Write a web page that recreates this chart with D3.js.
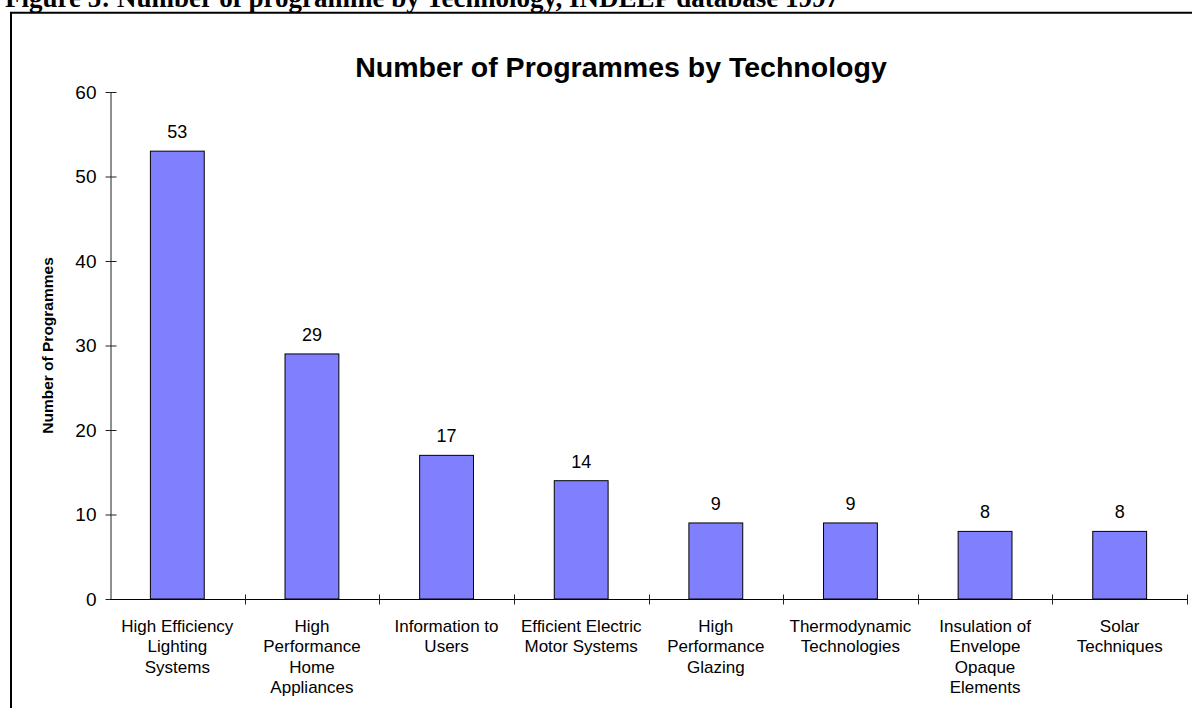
<!DOCTYPE html>
<html>
<head>
<meta charset="utf-8">
<script src="https://cdn.jsdelivr.net/npm/d3@7"></script>
<style>
  html, body { margin: 0; padding: 0; background: #fff; }
  svg { display: block; }
</style>
</head>
<body>
<svg id="chart" width="1192" height="708"></svg>
<script>
// Number of programmes per technology, INDEEP database 1997
const categories = [
  "High Efficiency Lighting Systems",
  "High Performance Home Appliances",
  "Information to Users",
  "Efficient Electric Motor Systems",
  "High Performance Glazing",
  "Thermodynamic Technologies",
  "Insulation of Envelope Opaque Elements",
  "Solar Techniques"
];
const categoryLines = [
  ["High Efficiency", "Lighting", "Systems"],
  ["High", "Performance", "Home", "Appliances"],
  ["Information to", "Users"],
  ["Efficient Electric", "Motor Systems"],
  ["High", "Performance", "Glazing"],
  ["Thermodynamic", "Technologies"],
  ["Insulation of", "Envelope", "Opaque", "Elements"],
  ["Solar", "Techniques"]
];
const programmes = [53, 29, 17, 14, 9, 9, 8, 8];
const yTicks = [0, 10, 20, 30, 40, 50, 60];

const captionText = "Figure 5: Number of programme by Technology, INDEEP database 1997";
const titleText = "Number of Programmes by Technology";
const yAxisTitle = "Number of Programmes";

const svg = d3.select("#chart");
const sans = "Arial, 'Liberation Sans', Helvetica, sans-serif";

// Document caption above the framed chart
svg.append("text")
  .attr("x", 5).attr("y", 6.5)
  .attr("font-family", "'Times New Roman', 'Liberation Serif', serif")
  .attr("font-weight", "bold")
  .attr("font-size", 27)
  .attr("fill", "#000")
  .text(captionText);

// Frame around the chart (left and top edges visible)
svg.append("path")
  .attr("d", "M11,720 L11,12.8 L1200,12.8")
  .attr("fill", "none")
  .attr("stroke", "#000")
  .attr("stroke-width", 2);

const plot = { left: 110, right: 1187, top: 92, bottom: 599 };

const x = d3.scaleBand()
  .domain(categories)
  .range([plot.left, plot.right])
  .padding(0);

const y = d3.scaleLinear()
  .domain([0, 60])
  .range([plot.bottom, plot.top]);

// Chart title
svg.append("text")
  .attr("x", 621).attr("y", 77)
  .attr("text-anchor", "middle")
  .attr("font-family", sans)
  .attr("font-weight", "bold")
  .attr("font-size", 28.5)
  .attr("fill", "#000")
  .text(titleText);

// Bars
const barW = x.bandwidth() * 0.4;
svg.append("g")
  .selectAll("rect")
  .data(programmes)
  .join("rect")
  .attr("x", (d, i) => x(categories[i]) + (x.bandwidth() - barW) / 2)
  .attr("y", d => y(d))
  .attr("width", barW)
  .attr("height", d => y(0) - y(d))
  .attr("fill", "#8080FF")
  .attr("stroke", "#000")
  .attr("stroke-width", 1);

// Value labels
svg.append("g")
  .selectAll("text")
  .data(programmes)
  .join("text")
  .attr("x", (d, i) => x(categories[i]) + x.bandwidth() / 2)
  .attr("y", d => y(d) - 13)
  .attr("text-anchor", "middle")
  .attr("font-family", sans)
  .attr("font-size", 18)
  .attr("fill", "#000")
  .text(d => d);

// Y axis with cross tick marks
const yAxis = d3.axisLeft(y)
  .tickValues(yTicks)
  .tickSize(0)
  .tickPadding(14)
  .tickFormat(d3.format("d"));
const gy = svg.append("g")
  .attr("transform", `translate(${plot.left + 0.5},0)`)
  .call(yAxis);
gy.select(".domain").attr("stroke", "#222");
gy.selectAll(".tick line")
  .attr("x1", -5).attr("x2", 6)
  .attr("stroke", "#222");
gy.selectAll(".tick text")
  .attr("font-family", sans)
  .attr("font-size", 19)
  .attr("fill", "#000");

// X axis with cross tick marks at category boundaries
const gx = svg.append("g")
  .attr("transform", `translate(0,${plot.bottom + 0.5})`);
gx.append("line")
  .attr("x1", plot.left).attr("x2", plot.right)
  .attr("stroke", "#000");
const bounds = categories.map(c => x(c) + x.bandwidth());
gx.selectAll("line.tick")
  .data(bounds)
  .join("line")
  .attr("class", "tick")
  .attr("x1", d => Math.round(d) + 0.5).attr("x2", d => Math.round(d) + 0.5)
  .attr("y1", -5).attr("y2", 5)
  .attr("stroke", "#222");

// Category labels (wrapped)
const cat = svg.append("g")
  .selectAll("text")
  .data(categoryLines)
  .join("text")
  .attr("x", (d, i) => x(categories[i]) + x.bandwidth() / 2)
  .attr("y", 632)
  .attr("text-anchor", "middle")
  .attr("font-family", sans)
  .attr("font-size", 17)
  .attr("fill", "#000");
cat.selectAll("tspan")
  .data(d => d)
  .join("tspan")
  .attr("x", function() { return d3.select(this.parentNode).attr("x"); })
  .attr("dy", (d, i) => i === 0 ? 0 : 20.3)
  .text(d => d);

// Y axis title
svg.append("text")
  .attr("transform", `translate(53,${(plot.top + plot.bottom) / 2}) rotate(-90)`)
  .attr("text-anchor", "middle")
  .attr("font-family", sans)
  .attr("font-weight", "bold")
  .attr("font-size", 15.5)
  .attr("fill", "#000")
  .text(yAxisTitle);
</script>
</body>
</html>
